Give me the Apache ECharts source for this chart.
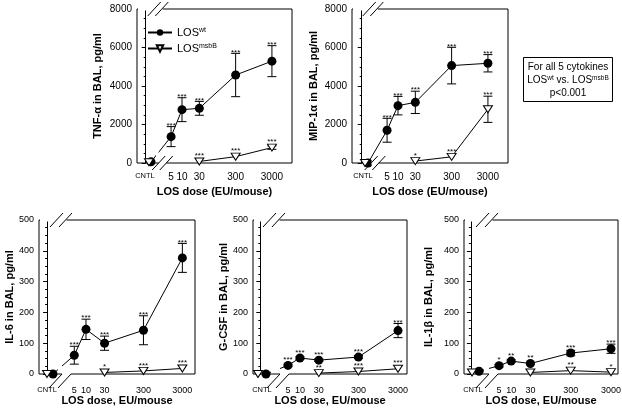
<!DOCTYPE html>
<html><head><meta charset="utf-8">
<script src="https://cdn.jsdelivr.net/npm/echarts@6/dist/echarts.min.js"></script>
<style>html,body{margin:0;padding:0;background:#fff}#c{width:622px;height:409px}</style>
</head><body><div id="c"></div>
<script>
// ---------- data ----------
const doseLabels = ['CNTL', '5', '10', '30', '300', '3000'];
const doseValues = [null, 5, 10, 30, 300, 3000]; // null = control (no LOS)

const tnfWt      = [60, 1370, 2770, 2840, 4570, 5290];
const tnfWtSem   = [0, 520, 620, 360, 1125, 805];
const tnfWtStars = ['', '***', '***', '***', '***', '***'];
const tnfMsb      = [40, null, null, 80, 330, 800];
const tnfMsbSem   = [0, null, null, 0, 0, 90];
const tnfMsbStars = ['', '', '', '***', '***', '***'];

const mipWt      = [0, 1700, 2980, 3150, 5060, 5180];
const mipWtSem   = [0, 620, 480, 580, 950, 450];
const mipWtStars = ['', '***', '***', '***', '***', '***'];
const mipMsb      = [0, null, null, 100, 320, 2790];
const mipMsbSem   = [0, null, null, 0, 0, 680];
const mipMsbStars = ['', '', '', '*', '***', '***'];

const il6Wt      = [0, 61, 145, 100, 142, 377];
const il6WtSem   = [0, 29, 33, 23, 47, 47];
const il6WtStars = ['', '***', '***', '***', '***', '***'];
const il6Msb      = [0, null, null, 5, 10, 18];
const il6MsbSem   = [0, null, null, 0, 0, 0];
const il6MsbStars = ['', '', '', '*', '***', '***'];

const gcsfWt      = [0, 28, 52, 45, 55, 141];
const gcsfWtSem   = [0, 4, 4, 4, 5, 23];
const gcsfWtStars = ['', '***', '***', '***', '***', '***'];
const gcsfMsb      = [0, null, null, 3, 8, 17];
const gcsfMsbSem   = [0, null, null, 0, 0, 0];
const gcsfMsbStars = ['', '', '', '**', '***', '***'];

const il1bWt      = [9, 27, 42, 34, 68, 82];
const il1bWtSem   = [2, 4, 4, 4, 9, 15];
const il1bWtStars = ['', '*', '**', '**', '***', '***'];
const il1bMsb      = [5, null, null, 5, 11, 6];
const il1bMsbSem   = [0, null, null, 0, 0, 0];
const il1bMsbStars = ['', '', '', '', '**', '*'];

const yNames = ['TNF-\u03b1 in BAL, pg/ml', 'MIP-1\u03b1 in BAL, pg/ml', 'IL-6 in BAL, pg/ml', 'G-CSF in BAL, pg/ml', 'IL-1\u03b2 in BAL, pg/ml'];
const xNames = ['LOS dose (EU/mouse)', 'LOS dose (EU/mouse)', 'LOS dose, EU/mouse', 'LOS dose, EU/mouse', 'LOS dose, EU/mouse'];
const yMaxes = [8000, 8000, 500, 500, 500];
const ySteps = [2000, 2000, 100, 100, 100];
const noteLines = ['For all 5 cytokines', 'LOS{s|wt} vs. LOS{s|msbB}', 'p<0.001'];

const panelData = [
  {wt: tnfWt, wtSem: tnfWtSem, wtStars: tnfWtStars, msb: tnfMsb, msbSem: tnfMsbSem, msbStars: tnfMsbStars},
  {wt: mipWt, wtSem: mipWtSem, wtStars: mipWtStars, msb: mipMsb, msbSem: mipMsbSem, msbStars: mipMsbStars},
  {wt: il6Wt, wtSem: il6WtSem, wtStars: il6WtStars, msb: il6Msb, msbSem: il6MsbSem, msbStars: il6MsbStars},
  {wt: gcsfWt, wtSem: gcsfWtSem, wtStars: gcsfWtStars, msb: gcsfMsb, msbSem: gcsfMsbSem, msbStars: gcsfMsbStars},
  {wt: il1bWt, wtSem: il1bWtSem, wtStars: il1bWtStars, msb: il1bMsb, msbSem: il1bMsbSem, msbStars: il1bMsbStars}
];

// ---------- layout (axis units are log10 of dose) ----------
const FONT = '"Liberation Sans", Arial, sans-serif';
const layout = [
  {grid: {left: 137, top: 9, width: 155, height: 154}, xMin: -0.24, xMax: 4.03, cntlWt: 0.146, cntlMsb: 0.09, cntlLabel: -0.02, brkTop: 0.339, brkBot: 0.462, brkDy: 0, yGap: 34, xGap: 23, lblMargin: 9, fs: 10},
  {grid: {left: 352, top: 9, width: 156, height: 154}, xMin: -0.267, xMax: 4.03, cntlWt: 0.174, cntlMsb: 0.091, cntlLabel: 0.036, brkTop: 0.312, brkBot: 0.367, brkDy: 0, yGap: 33, xGap: 23, lblMargin: 9, fs: 10},
  {grid: {left: 39, top: 220, width: 156, height: 154}, xMin: -0.208, xMax: 3.802, cntlWt: 0.152, cntlMsb: -0.002, cntlLabel: -0.002, brkTop: 0.358, brkBot: 0.332, brkDy: 7, yGap: 17, xGap: 20, lblMargin: 12, fs: 9},
  {grid: {left: 253, top: 220, width: 154, height: 154}, xMin: -0.185, xMax: 3.704, cntlWt: 0.143, cntlMsb: -0.059, cntlLabel: 0.042, brkTop: 0.345, brkBot: 0.446, brkDy: 7, yGap: 22, xGap: 20, lblMargin: 12, fs: 9},
  {grid: {left: 464, top: 220, width: 154, height: 154}, xMin: -0.17, xMax: 3.651, cntlWt: 0.202, cntlMsb: 0.029, cntlLabel: 0.053, brkTop: 0.401, brkBot: 0.401, brkDy: 7, yGap: 30, xGap: 20, lblMargin: 12, fs: 9}
];

const triPath = 'path://M0,0 L10,0 L5,9 Z';

function xPos(i, cntl) { return doseValues[i] === null ? cntl : Math.log10(doseValues[i]); }

function errRenderer(stars, capHalf, symHalf) {
  return function (params, api) {
    const x = api.value(0), y = api.value(1), e = api.value(2), idx = api.value(3);
    const c = api.coord([x, y]);
    const children = [];
    let top = c[1] - symHalf;
    if (e > 0) {
      const hi = api.coord([x, y + e]), lo = api.coord([x, y - e]);
      const st = {stroke: '#000', lineWidth: 1};
      children.push({type: 'line', shape: {x1: c[0], y1: hi[1], x2: c[0], y2: lo[1]}, style: st});
      children.push({type: 'line', shape: {x1: c[0] - capHalf, y1: hi[1], x2: c[0] + capHalf, y2: hi[1]}, style: st});
      children.push({type: 'line', shape: {x1: c[0] - capHalf, y1: lo[1], x2: c[0] + capHalf, y2: lo[1]}, style: st});
      top = Math.min(top, hi[1]);
    }
    const s = stars[idx];
    if (s) {
      children.push({type: 'text', style: {text: s, x: c[0], y: top + 3, align: 'center', verticalAlign: 'bottom', fontSize: 8, fontFamily: FONT, fill: '#000'}});
    }
    return {type: 'group', children: children};
  };
}

const grids = [], xAxes = [], yAxes = [], series = [];
panelData.forEach(function (pd, p) {
  const L = layout[p];
  grids.push(Object.assign({show: true, borderColor: '#000', borderWidth: 1, backgroundColor: 'transparent', outerBoundsMode: 'none', containLabel: false}, L.grid));
  const labelVals = doseValues.map(function (d, i) { return i === 0 ? L.cntlLabel : Math.log10(d); });
  const labelMap = {};
  labelVals.forEach(function (v, i) { labelMap[v.toFixed(5)] = doseLabels[i]; });
  xAxes.push({
    gridIndex: p, type: 'value', min: L.xMin, max: L.xMax,
    axisLine: {show: false}, axisTick: {show: false}, splitLine: {show: false},
    axisLabel: {
      customValues: labelVals, color: '#000', fontFamily: FONT, fontSize: L.fs, margin: L.lblMargin,
      formatter: function (v) { const t = labelMap[Number(v).toFixed(5)] || ''; return t === 'CNTL' ? '{c|CNTL}' : t; },
      rich: {c: {fontSize: 7.5, fontFamily: FONT, color: '#000'}}
    },
    name: xNames[p], nameLocation: 'middle', nameGap: L.xGap,
    nameTextStyle: {fontFamily: FONT, fontWeight: 'bold', fontSize: 11, color: '#000'}
  });
  yAxes.push({
    gridIndex: p, type: 'value', min: 0, max: yMaxes[p], interval: ySteps[p],
    axisLine: {show: true, lineStyle: {color: '#000', width: 1}},
    axisTick: {show: true, length: 4, lineStyle: {color: '#000'}},
    minorTick: {show: true, splitNumber: 4, length: 2, lineStyle: {color: '#000'}},
    splitLine: {show: false}, minorSplitLine: {show: false},
    axisLabel: {color: '#000', fontFamily: FONT, fontSize: L.fs, margin: 5, formatter: function (v) { return String(v); }},
    name: yNames[p], nameLocation: 'middle', nameGap: L.yGap,
    nameTextStyle: {fontFamily: FONT, fontWeight: 'bold', fontSize: 11, color: '#000'}
  });
  const wtLine = pd.wt.map(function (v, i) { return [xPos(i, L.cntlWt), v === null ? '-' : v]; });
  const msbLine = pd.msb.map(function (v, i) { return [xPos(i, L.cntlMsb), v === null ? '-' : v]; });
  const wtErr = [], msbErr = [];
  pd.wt.forEach(function (v, i) { if (v !== null) wtErr.push([xPos(i, L.cntlWt), v, pd.wtSem[i], i]); });
  pd.msb.forEach(function (v, i) { if (v !== null) msbErr.push([xPos(i, L.cntlMsb), v, pd.msbSem[i], i]); });
  series.push({type: 'custom', coordinateSystem: 'cartesian2d', xAxisIndex: p, yAxisIndex: p, z: 1, silent: true,
    renderItem: errRenderer(pd.wtStars, 4.5, 4.5), encode: {x: 0, y: 1}, data: wtErr, clip: false});
  series.push({type: 'custom', coordinateSystem: 'cartesian2d', xAxisIndex: p, yAxisIndex: p, z: 1, silent: true,
    renderItem: errRenderer(pd.msbStars, 4.5, 4.5), encode: {x: 0, y: 1}, data: msbErr, clip: false});
  series.push({name: 'wt', type: 'line', xAxisIndex: p, yAxisIndex: p, z: 2, data: wtLine, clip: false,
    symbol: 'circle', symbolSize: 9, itemStyle: {color: '#000'}, lineStyle: {color: '#000', width: 1}, animation: false});
  series.push({name: 'msbB', type: 'line', xAxisIndex: p, yAxisIndex: p, z: 3, data: msbLine, clip: false,
    symbol: triPath, symbolSize: [9, 7], symbolKeepAspect: false,
    itemStyle: {color: '#fff', borderColor: '#000', borderWidth: 1}, lineStyle: {color: '#000', width: 1}, animation: false});
});

const chart = echarts.init(document.getElementById('c'), null, {renderer: 'canvas'});
chart.setOption({
  animation: false,
  backgroundColor: '#fff',
  textStyle: {fontFamily: FONT},
  grid: grids, xAxis: xAxes, yAxis: yAxes, series: series,
  legend: {
    data: ['wt', 'msbB'], orient: 'vertical', left: 142, top: 22, itemWidth: 24, itemHeight: 8, itemGap: 5,
    formatter: function (n) { return 'LOS{s|' + n + '}'; },
    textStyle: {fontFamily: FONT, fontSize: 11, color: '#000', rich: {s: {fontSize: 7, fontFamily: FONT, verticalAlign: 'top', color: '#000'}}},
    selectedMode: false
  }
});

// ---------- decorations: axis-break marks, note box ----------
const gfx = [];
layout.forEach(function (L, p) {
  const top = L.grid.top, bot = L.grid.top + L.grid.height, left = L.grid.left;
  const hx = 6.5, hy = 7, sep = p < 2 ? 3.8 : 4.5;
  const bt = chart.convertToPixel({gridIndex: p}, [L.brkTop, 0])[0];
  const bb = chart.convertToPixel({gridIndex: p}, [L.brkBot, 0])[0];
  const cw = chart.convertToPixel({gridIndex: p}, [L.cntlWt, 0])[0];
  const cyB = bot + L.brkDy;
  const xAt = function (cx, cy, o, yLine) { return cx + o + (cy - yLine) * hx / hy; };
  const t2 = xAt(bt, top, sep, top);
  const b1 = xAt(bb, cyB, -sep, bot), b2 = xAt(bb, cyB, sep, bot);
  const white = {fill: '#fff', stroke: null};
  gfx.push({type: 'rect', z: 50, shape: {x: left + 1, y: top - 1.5, width: t2 - left, height: 3}, style: white});
  gfx.push({type: 'rect', z: 50, shape: {x: b1, y: bot - 1.5, width: b2 - b1, height: 3}, style: white});
  gfx.push({type: 'rect', z: 50, shape: {x: cw + 5, y: bot - 40, width: Math.max(0, b1 - cw - 5), height: 39}, style: white});
  [-sep, sep].forEach(function (o) {
    gfx.push({type: 'line', z: 60, shape: {x1: bt + o - hx, y1: top + hy, x2: bt + o + hx, y2: top - hy}, style: {stroke: '#000', lineWidth: 1}});
    gfx.push({type: 'line', z: 60, shape: {x1: bb + o - hx, y1: cyB + hy, x2: bb + o + hx, y2: cyB - hy}, style: {stroke: '#000', lineWidth: 1}});
  });
});
gfx.push({type: 'rect', z: 50, shape: {x: 523.5, y: 57.5, width: 89, height: 44}, style: {fill: '#fff', stroke: '#000', lineWidth: 1}});
noteLines.forEach(function (t, i) {
  gfx.push({type: 'text', z: 60, style: {text: t, x: 568, y: 67 + i * 13, align: 'center', verticalAlign: 'middle',
    fontFamily: FONT, fontSize: 10, fill: '#000', rich: {s: {fontSize: 6.5, fontFamily: FONT, verticalAlign: 'top', fill: '#000'}}}});
});
chart.setOption({graphic: {elements: gfx}});
</script>
</body></html>
